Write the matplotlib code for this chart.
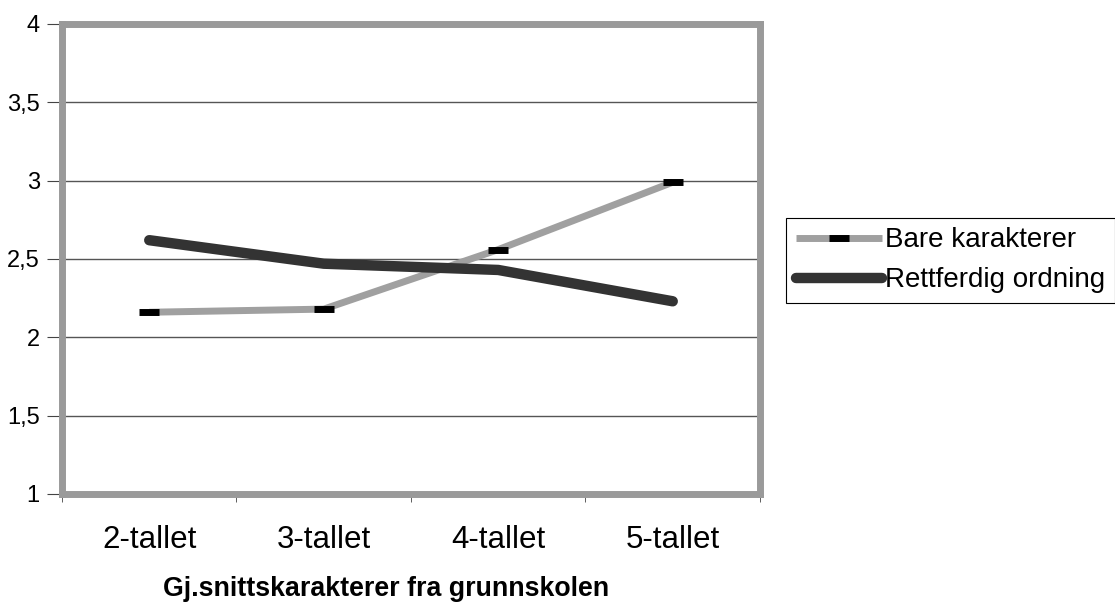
import numpy as np
import matplotlib.pyplot as plt
from matplotlib.ticker import FixedLocator

plt.rcParams.update({'font.family': ['Liberation Sans', 'DejaVu Sans'], 'font.size': 15})

categories = ["2-tallet", "3-tallet", "4-tallet", "5-tallet"]
bare = [2.16, 2.18, 2.56, 2.99]
rettferdig = [2.62, 2.47, 2.43, 2.23]
yticks = [1, 1.5, 2, 2.5, 3, 3.5, 4]
ytick_labels = ["1", "1,5", "2", "2,5", "3", "3,5", "4"]

fig = plt.figure(figsize=(11.15, 6.03), dpi=100)
ax = fig.add_axes([0.0556, 0.1808, 0.6260, 0.7794])

x = np.arange(len(categories))

ax.plot(x, bare, color="#a0a0a0", linewidth=5, solid_capstyle="butt",
        marker="_", markersize=15, markeredgewidth=5, markeredgecolor="black",
        label="Bare karakterer", zorder=3)
ax.plot(x, rettferdig, color="#333333", linewidth=7.5, solid_capstyle="round",
        solid_joinstyle="round", label="Rettferdig ordning", zorder=4)

ax.set_xlim(-0.5, 3.5)
ax.set_ylim(1, 4)
ax.set_yticks(yticks)
ax.set_yticklabels(ytick_labels, fontsize=17)
ax.set_xticks(x)
ax.set_xticklabels(categories, fontsize=22.5)
ax.xaxis.set_minor_locator(FixedLocator(np.arange(-0.5, 4, 1)))
ax.tick_params(axis="x", which="major", length=0, pad=22)
ax.tick_params(axis="x", which="minor", length=6, color="#444444")
ax.tick_params(axis="y", length=11, color="#444444", pad=5)

for v in yticks[1:-1]:
    ax.axhline(v, color="#555555", linewidth=1, zorder=1)

for s in ax.spines.values():
    s.set_color("#9a9a9a")
    s.set_linewidth(5)

ax.set_xlabel("Gj.snittskarakterer fra grunnskolen", fontsize=19.3, fontweight="bold", labelpad=16)
ax.xaxis.set_label_coords(0.464, -0.175)

leg = fig.legend(loc="upper left", bbox_to_anchor=(0.705, 0.639), fontsize=20,
                 handlelength=3.1, handletextpad=0.1, borderpad=0.35, labelspacing=0.5,
                 fancybox=False, edgecolor="black", framealpha=1, borderaxespad=0)
leg.get_frame().set_linewidth(0.8)

plt.savefig("out.png", dpi=100)
